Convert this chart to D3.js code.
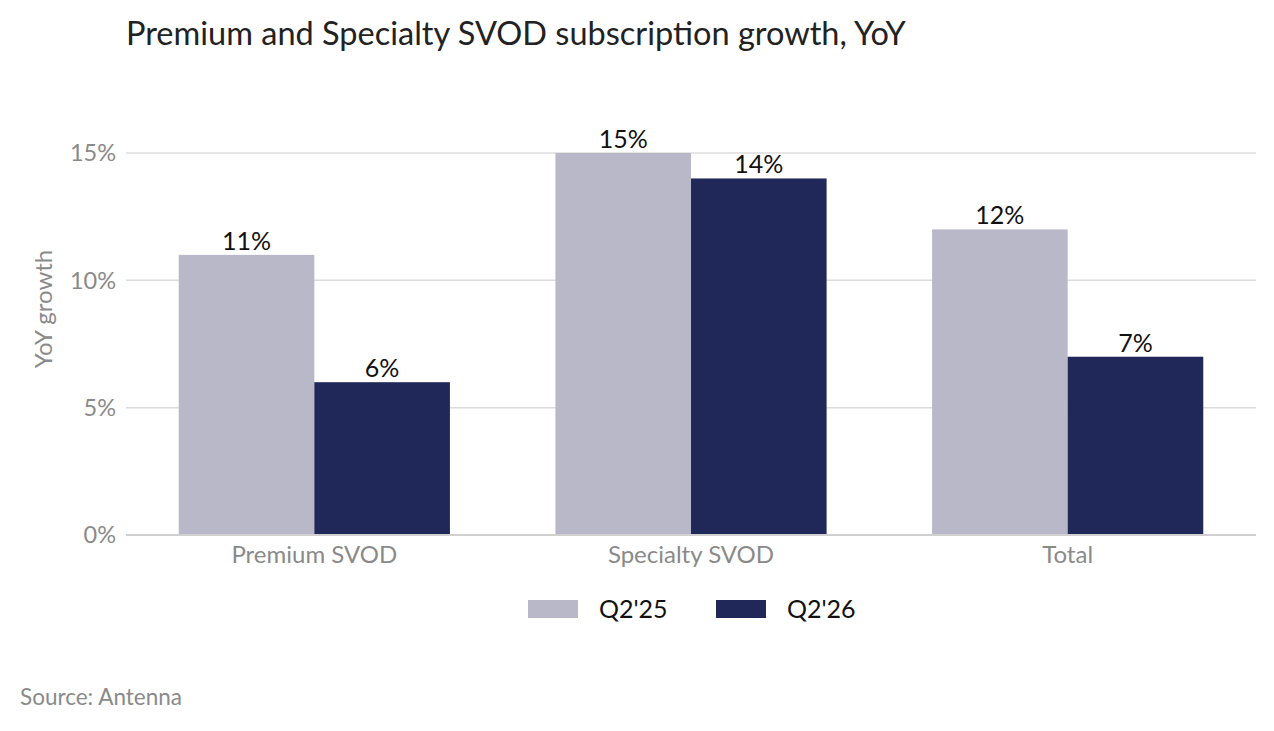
<!DOCTYPE html>
<html>
<head>
<meta charset="utf-8">
<script src="https://cdn.jsdelivr.net/npm/d3@7"></script>
<style>
  body { margin: 0; background: #fff; }
  text { font-family: "Source Sans Pro", Lato, "Open Sans", sans-serif; }
</style>
</head>
<body>
<script>
// chart values
const categories = ["Premium SVOD", "Specialty SVOD", "Total"];
const seriesNames = ["Q2'25", "Q2'26"];
const q2_25 = [11, 15, 12];
const q2_26 = [6, 14, 7];
const yTicks = [0, 5, 10, 15];
const colors = ["#b9b8c8", "#1f2858"];

const W = 1274, H = 731;
const margin = {left: 126, right: 18, top: 120, bottom: 196};

const svg = d3.select("body").append("svg")
    .attr("width", W)
    .attr("height", H);

// title
svg.append("text")
    .attr("x", 126)
    .attr("y", 45)
    .style("font-size", "32.5px")
    .style("fill", "#222")
    .text("Premium and Specialty SVOD subscription growth, YoY");

const x0 = d3.scaleBand()
    .domain(categories)
    .range([margin.left, W - margin.right])
    .paddingInner(0.28)
    .paddingOuter(0.14);

const x1 = d3.scaleBand()
    .domain(seriesNames)
    .range([0, x0.bandwidth()]);

// 0 at y=535, 15 at y=153
const y = d3.scaleLinear()
    .domain([0, 15])
    .range([535, 153]);

// gridlines
svg.append("g")
    .selectAll("line")
    .data(yTicks.filter(d => d > 0))
    .join("line")
    .attr("x1", margin.left)
    .attr("x2", W - margin.right)
    .attr("y1", d => y(d))
    .attr("y2", d => y(d))
    .style("stroke", "#dcdcdc")
    .style("stroke-width", 1.5);

// tick labels
svg.append("g")
    .selectAll("text")
    .data(yTicks)
    .join("text")
    .attr("x", 116)
    .attr("y", d => y(d))
    .attr("dy", "0.35em")
    .attr("text-anchor", "end")
    .style("font-size", "23.5px")
    .style("fill", "#8a8a8a")
    .text(d => d + "%");

// y axis title
svg.append("text")
    .attr("transform", "translate(52,309) rotate(-90)")
    .attr("text-anchor", "middle")
    .style("font-size", "24px")
    .style("fill", "#8a8a8a")
    .text("YoY growth");

// bars
const rows = categories.map((c, i) => ({
    cat: c,
    vals: [{s: seriesNames[0], v: q2_25[i]}, {s: seriesNames[1], v: q2_26[i]}]
}));

const groups = svg.selectAll(".grp")
    .data(rows)
    .join("g")
    .attr("class", "grp")
    .attr("transform", d => "translate(" + x0(d.cat) + ",0)");

groups.selectAll("rect")
    .data(d => d.vals)
    .join("rect")
    .attr("x", d => x1(d.s))
    .attr("y", d => y(d.v))
    .attr("width", x1.bandwidth())
    .attr("height", d => y(0) - y(d.v))
    .style("fill", (d, i) => colors[i]);

groups.selectAll(".val")
    .data(d => d.vals)
    .join("text")
    .attr("class", "val")
    .attr("x", d => x1(d.s) + x1.bandwidth() / 2)
    .attr("y", d => y(d.v) - 5)
    .attr("text-anchor", "middle")
    .style("font-size", "25px")
    .style("fill", "#111")
    .text(d => d.v + "%");

// baseline
svg.append("line")
    .attr("x1", margin.left)
    .attr("x2", W - margin.right)
    .attr("y1", y(0))
    .attr("y2", y(0))
    .style("stroke", "#d0d0d0")
    .style("stroke-width", 2);

// category labels
svg.append("g")
    .selectAll("text")
    .data(categories)
    .join("text")
    .attr("x", d => x0(d) + x0.bandwidth() / 2)
    .attr("y", 563)
    .attr("text-anchor", "middle")
    .style("font-size", "24px")
    .style("fill", "#8a8a8a")
    .text(d => d);

// legend
const legendX = [528, 716];
const legend = svg.append("g")
    .selectAll("g")
    .data(seriesNames)
    .join("g")
    .attr("transform", (d, i) => "translate(" + legendX[i] + ",600)");

legend.append("rect")
    .attr("width", 50)
    .attr("height", 18)
    .style("fill", (d, i) => colors[i]);

legend.append("text")
    .attr("x", 71)
    .attr("y", 9)
    .attr("dy", "0.35em")
    .style("font-size", "25px")
    .style("fill", "#111")
    .text(d => d);

// source
svg.append("text")
    .attr("x", 20)
    .attr("y", 705)
    .style("font-size", "22.5px")
    .style("fill", "#8a8a8a")
    .text("Source: Antenna");
</script>
</body>
</html>
